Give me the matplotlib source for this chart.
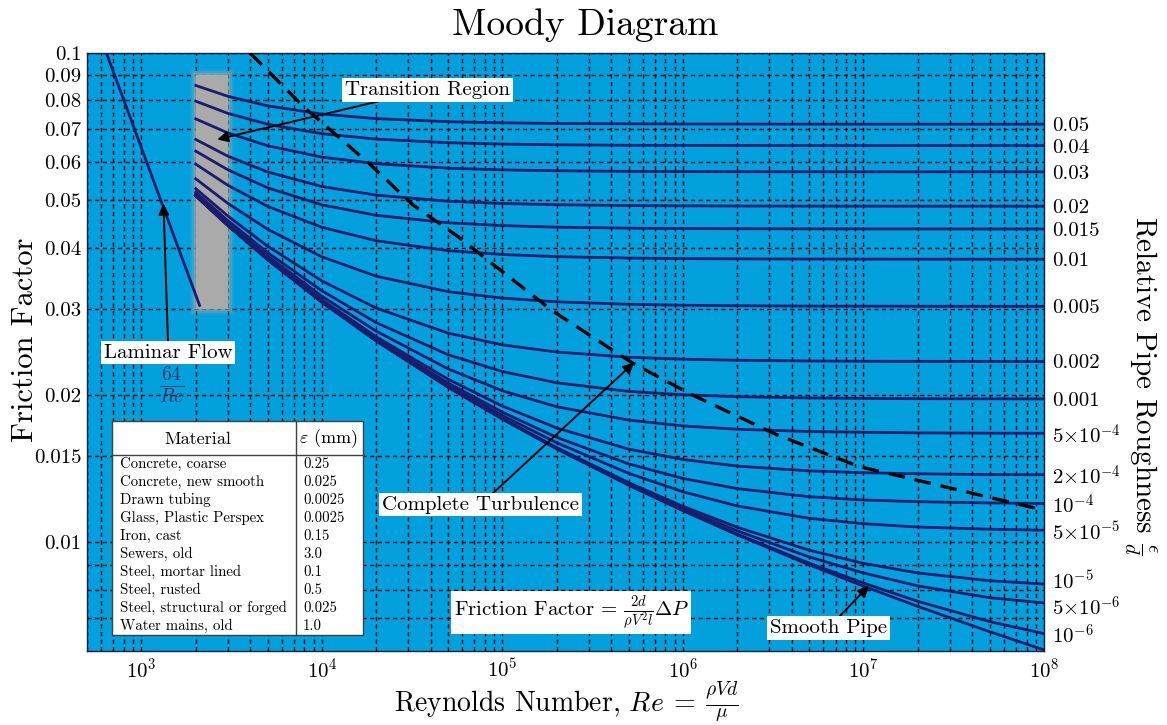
import matplotlib
matplotlib.use("Agg")
import matplotlib.pyplot as plt
from matplotlib.ticker import FixedLocator, NullFormatter, NullLocator, LogLocator
from matplotlib.patches import Rectangle
from matplotlib.transforms import ScaledTranslation

plt.rcParams['font.family'] = 'cmr10'
plt.rcParams['mathtext.fontset'] = 'cm'
plt.rcParams['axes.formatter.use_mathtext'] = True
plt.rcParams['axes.unicode_minus'] = False

# Reynolds numbers at which the curves were read
re_pts = [2e3, 3e3, 5e3, 1e4, 2e4, 5e4, 1e5, 2e5, 5e5, 1e6, 2e6, 5e6, 1e7, 2e7, 5e7, 1e8]

# friction factor per relative roughness
f_050 = [0.08584, 0.08162, 0.07799, 0.07504, 0.07344, 0.07238, 0.07200, 0.07179, 0.07166, 0.07161, 0.07158, 0.07156, 0.07155, 0.07155, 0.07155, 0.07155]
f_040 = [0.07972, 0.07532, 0.07152, 0.06840, 0.06669, 0.06556, 0.06515, 0.06493, 0.06478, 0.06473, 0.06470, 0.06468, 0.06467, 0.06467, 0.06467, 0.06467]
f_030 = [0.07334, 0.06870, 0.06464, 0.06127, 0.05940, 0.05816, 0.05770, 0.05746, 0.05730, 0.05724, 0.05720, 0.05718, 0.05717, 0.05717, 0.05717, 0.05717]
f_020 = [0.06658, 0.06159, 0.05714, 0.05336, 0.05123, 0.04979, 0.04926, 0.04897, 0.04878, 0.04872, 0.04868, 0.04866, 0.04865, 0.04864, 0.04864, 0.04864]
f_015 = [0.06302, 0.05778, 0.05304, 0.04895, 0.04659, 0.04499, 0.04439, 0.04407, 0.04386, 0.04378, 0.04374, 0.04371, 0.04370, 0.04370, 0.04369, 0.04369]
f_010 = [0.05928, 0.05372, 0.04860, 0.04404, 0.04134, 0.03946, 0.03875, 0.03836, 0.03811, 0.03801, 0.03796, 0.03793, 0.03792, 0.03791, 0.03790, 0.03790]
f_005 = [0.05533, 0.04935, 0.04364, 0.03833, 0.03499, 0.03253, 0.03156, 0.03102, 0.03066, 0.03052, 0.03045, 0.03040, 0.03039, 0.03038, 0.03037, 0.03037]
f_002 = [0.05283, 0.04650, 0.04030, 0.03422, 0.03011, 0.02677, 0.02533, 0.02449, 0.02390, 0.02368, 0.02356, 0.02348, 0.02345, 0.02344, 0.02343, 0.02342]
f_001 = [0.05197, 0.04551, 0.03910, 0.03267, 0.02812, 0.02418, 0.02234, 0.02119, 0.02035, 0.02003, 0.01985, 0.01973, 0.01969, 0.01966, 0.01965, 0.01964]
f_5e4 = [0.05153, 0.04500, 0.03848, 0.03184, 0.02702, 0.02262, 0.02041, 0.01893, 0.01778, 0.01730, 0.01703, 0.01685, 0.01679, 0.01674, 0.01672, 0.01671]
f_2e4 = [0.05127, 0.04470, 0.03810, 0.03132, 0.02631, 0.02155, 0.01899, 0.01713, 0.01551, 0.01477, 0.01432, 0.01400, 0.01388, 0.01381, 0.01376, 0.01375]
f_1e4 = [0.05118, 0.04459, 0.03798, 0.03115, 0.02606, 0.02117, 0.01845, 0.01639, 0.01447, 0.01351, 0.01288, 0.01240, 0.01221, 0.01211, 0.01204, 0.01201]
f_5e5 = [0.05114, 0.04454, 0.03791, 0.03106, 0.02594, 0.02097, 0.01816, 0.01598, 0.01384, 0.01269, 0.01187, 0.01120, 0.01092, 0.01075, 0.01064, 0.01059]
f_1e5 = [0.05110, 0.04450, 0.03786, 0.03099, 0.02584, 0.02080, 0.01792, 0.01562, 0.01325, 0.01185, 0.01074, 0.00964, 0.00906, 0.00866, 0.00835, 0.00822]
f_5e6 = [0.05110, 0.04450, 0.03785, 0.03098, 0.02583, 0.02078, 0.01789, 0.01558, 0.01317, 0.01173, 0.01056, 0.00934, 0.00866, 0.00815, 0.00771, 0.00752]
f_1e6 = [0.05110, 0.04450, 0.03785, 0.03097, 0.02582, 0.02077, 0.01787, 0.01554, 0.01311, 0.01163, 0.01040, 0.00907, 0.00826, 0.00758, 0.00689, 0.00651]
f_smooth = [0.05109, 0.04449, 0.03785, 0.03097, 0.02581, 0.02076, 0.01786, 0.01553, 0.01309, 0.01161, 0.01036, 0.00900, 0.00814, 0.00740, 0.00657, 0.00603]

rough_curves = [f_050, f_040, f_030, f_020, f_015, f_010, f_005, f_002, f_001,
                f_5e4, f_2e4, f_1e4, f_5e5, f_1e5, f_5e6, f_1e6]
rough_labels = ['0.05', '0.04', '0.03', '0.02', '0.015', '0.01', '0.005', '0.002', '0.001',
                r'$5{\times}10^{-4}$', r'$2{\times}10^{-4}$', r'$10^{-4}$', r'$5{\times}10^{-5}$',
                r'$10^{-5}$', r'$5{\times}10^{-6}$', r'$10^{-6}$']

# laminar line (64/Re)
laminar_re = [640, 2100]
laminar_f = [0.1, 0.0305]

# complete turbulence boundary
turb_re = [4.0e3, 7.9e3, 1.84e4, 3.2e4, 5.6e4, 7.8e4, 1.9e5, 5.2e5, 1.1e6, 3.3e6, 9.4e6, 8.5e7, 1.0e8]
turb_f = [0.1, 0.0777, 0.0593, 0.0489, 0.0423, 0.0384, 0.0297, 0.0233, 0.0201, 0.0166, 0.0143, 0.0118, 0.0117]

# transition band
trans_re = [2000, 3000]
trans_f = [0.03, 0.09]

y_ticks = [0.01, 0.015, 0.02, 0.03, 0.04, 0.05, 0.06, 0.07, 0.08, 0.09, 0.1]
y_labels = ['0.01', '0.015', '0.02', '0.03', '0.04', '0.05', '0.06', '0.07', '0.08', '0.09', '0.1']

materials = ['Concrete, coarse', 'Concrete, new smooth', 'Drawn tubing', 'Glass, Plastic Perspex',
             'Iron, cast', 'Sewers, old', 'Steel, mortar lined', 'Steel, rusted',
             'Steel, structural or forged', 'Water mains, old']
eps_mm = ['0.25', '0.025', '0.0025', '0.0025', '0.15', '3.0', '0.1', '0.5', '0.025', '1.0']

bg = '#03A0DE'
navy = '#1c1c6e'

fig = plt.figure(figsize=(11.67, 7.25), dpi=100)
ax = fig.add_axes([0.0746, 0.1021, 0.8200, 0.8248])
ax.set_facecolor(bg)
ax.set_xscale('log')
ax.set_yscale('log')
ax.set_xlim(500, 1e8)
ax.set_ylim(0.006, 0.1)

ax.set_yticks(y_ticks, labels=y_labels)
ax.yaxis.set_minor_locator(FixedLocator([0.007, 0.008, 0.009]))
ax.yaxis.set_minor_formatter(NullFormatter())
ax.xaxis.set_major_locator(LogLocator(base=10))
ax.xaxis.set_minor_locator(LogLocator(base=10, subs=range(2, 10)))
ax.xaxis.set_minor_formatter(NullFormatter())
ax.tick_params(which='both', length=0)
ax.tick_params(axis='y', labelsize=15, pad=4)
ax.tick_params(axis='x', labelsize=15, pad=5)
ax.set_axisbelow(True)
ax.grid(which='both', color='black', lw=1.0, ls=(0, (3, 2.5)))
for sp in ax.spines.values():
    sp.set_color('#20203a')
    sp.set_linewidth(1.0)

# blurred grey transition band
fx, fy = 10 ** (1 / 181), 10 ** (1 / 493)
for k, a in [(6, 0.15), (4, 0.25), (2, 0.4), (0, 1.0)]:
    ax.fill_between([trans_re[0] / fx ** k, trans_re[1] * fx ** k],
                    trans_f[0] / fy ** k, trans_f[1] * fy ** k,
                    color='#aaaaaa', alpha=a, lw=0, zorder=1.5)

for f in rough_curves:
    ax.plot(re_pts, f, color=navy, lw=2.0, zorder=3)
ax.plot(re_pts, f_smooth, color=navy, lw=2.0, zorder=3)
ax.plot(laminar_re, laminar_f, color=navy, lw=2.0, zorder=3)
ax.plot(turb_re, turb_f, color='black', lw=2.4, dashes=(5, 3), zorder=4)

box = dict(fc='white', ec='none', pad=2)
arrow = dict(arrowstyle='-|>', color='black', lw=1.4, mutation_scale=16, shrinkA=0, shrinkB=0)
ax.annotate('Transition Region', xy=(2630, 0.0666), xytext=(38500, 0.0841),
            fontsize=15, ha='center', va='center', bbox=box, arrowprops=arrow, zorder=6)
ax.annotate('Laminar Flow', xy=(1325, 0.0492), xytext=(1410, 0.0244),
            fontsize=15, ha='center', va='center', bbox=box, arrowprops=arrow, zorder=6)
ax.text(1483, 0.0211, r'$\frac{64}{Re}$', fontsize=20, color='#1c3a6e', ha='center', va='center')
ax.annotate('Complete Turbulence', xy=(5.36e5, 0.0233), xytext=(75600, 0.01194),
            fontsize=15, ha='center', va='center', bbox=box, arrowprops=arrow, zorder=6)
ax.annotate('Smooth Pipe', xy=(1.07e7, 0.00815), xytext=(6.4e6, 0.00669),
            fontsize=15, ha='center', va='center', bbox=box, arrowprops=arrow, zorder=6)
ax.text(2.4e5, 0.00718, r'Friction Factor = $\frac{2d}{\rho V^2 l}\Delta P$', fontsize=15,
        ha='center', va='center', bbox=box, zorder=6)

# material table
x0, x1, xs = 0.0261, 0.2884, 0.2184
y0, y1, yh = 0.0268, 0.3846, 0.3278
ax.add_patch(Rectangle((x0, y0), x1 - x0, y1 - y0, transform=ax.transAxes,
                       fc='white', ec='#404040', lw=1.0, zorder=7))
ax.plot([x0, x1], [yh, yh], transform=ax.transAxes, color='#404040', lw=1.0, zorder=8)
ax.plot([xs, xs], [y0, y1], transform=ax.transAxes, color='#404040', lw=1.0, zorder=8)
ax.text(0.116, 0.3545, 'Material', transform=ax.transAxes, fontsize=13,
        ha='center', va='center', zorder=9)
ax.text(0.2518, 0.3545, r'$\varepsilon$ (mm)', transform=ax.transAxes, fontsize=13,
        ha='center', va='center', zorder=9)
row_h = (yh - y0) / len(materials)
for i, (m, e) in enumerate(zip(materials, eps_mm)):
    yy = yh - (i + 0.5) * row_h
    ax.text(0.0345, yy, m, transform=ax.transAxes, fontsize=10.7, ha='left', va='center', zorder=9)
    ax.text(0.2257, yy, e, transform=ax.transAxes, fontsize=10.7, ha='left', va='center', zorder=9)

# right axis with roughness labels at curve ends
tw = ax.twinx()
tw.set_yscale('log')
tw.set_ylim(ax.get_ylim())
tw.set_yticks([f[-1] for f in rough_curves], labels=rough_labels)
tw.yaxis.set_minor_locator(NullLocator())
tw.tick_params(which='both', length=0, labelsize=15, pad=6)
for sp in tw.spines.values():
    sp.set_visible(False)
# nudge the two crowded labels apart a little
nudge = {r'$10^{-5}$': 3, r'$5{\times}10^{-6}$': -2}
for lbl in tw.get_yticklabels():
    dy = nudge.get(lbl.get_text())
    if dy:
        lbl.set_transform(lbl.get_transform() + ScaledTranslation(0, dy / 72, fig.dpi_scale_trans))

fig.text(0.5015, 0.9655, 'Moody Diagram', fontsize=27, ha='center', va='center')
fig.text(0.485, 0.019, r'Reynolds Number, $Re\:=\:\frac{\rho V d}{\mu}$', fontsize=20,
         ha='center', va='baseline')
fig.text(0.0214, 0.531, 'Friction Factor', fontsize=22, rotation=90, ha='center', va='center')
fig.text(0.977, 0.469, r'Relative Pipe Roughness $\frac{\epsilon}{d}$', fontsize=21,
         rotation=270, ha='center', va='center')

fig.savefig('out.png', dpi=100, facecolor='white')
